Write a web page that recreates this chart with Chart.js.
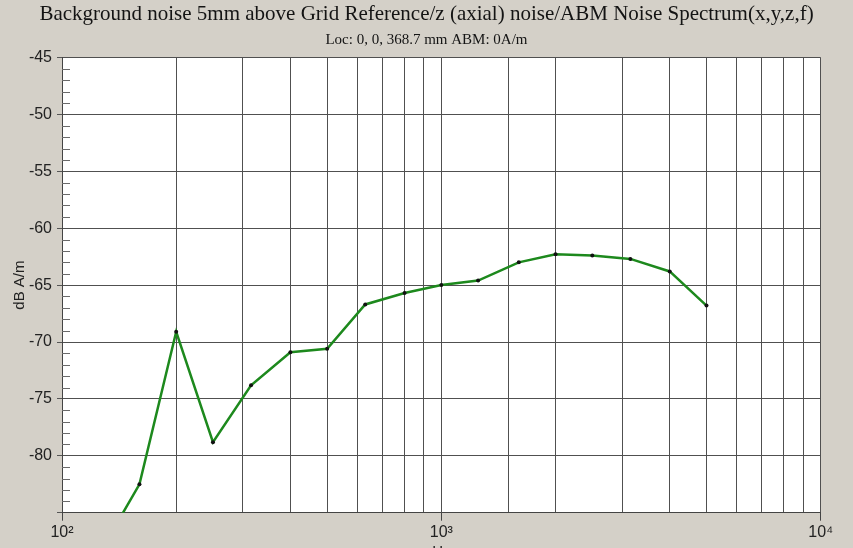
<!DOCTYPE html>
<html>
<head>
<meta charset="utf-8">
<script src="https://cdn.jsdelivr.net/npm/chart.js@4/dist/chart.umd.min.js"></script>
<style>
  html, body { margin: 0; padding: 0; background: #d4d0c8; overflow: hidden; }
  #wrap { width: 853px; height: 566px; }
  canvas { display: block; }
</style>
</head>
<body>
<div id="wrap"><canvas id="c" width="853" height="566"></canvas></div>
<script>
// Third-octave band centre frequencies (Hz)
const frequencies = [125, 160, 200, 250, 315, 400, 500, 630, 800, 1000, 1250, 1600, 2000, 2500, 3150, 4000, 5000];
// Measured noise level (dB A/m)
const noiseLevels = [-88.7, -82.5, -69.1, -78.8, -73.8, -70.9, -70.6, -66.7, -65.7, -65.0, -64.6, -63.0, -62.3, -62.4, -62.7, -63.8, -66.8];
// Decade labels on the frequency axis
const decadeLabels = { 100: '10\u00B2', 1000: '10\u00B3', 10000: '10\u2074' };

const titleText = 'Background noise 5mm above Grid Reference/z (axial) noise/ABM Noise Spectrum(x,y,z,f)';
const subtitleText = 'Loc: 0, 0, 368.7 mm ABM: 0A/m';

const isDecade = v => Math.abs(Math.log10(v) - Math.round(Math.log10(v))) < 1e-9;

// White plot area and 1 dB minor ticks along the inside of the left axis
const plotDecor = {
  id: 'plotDecor',
  beforeDraw(chart) {
    const { ctx, chartArea: a } = chart;
    ctx.save();
    ctx.fillStyle = '#ffffff';
    ctx.fillRect(a.left, a.top, a.right - a.left, a.bottom - a.top);
    ctx.restore();
  },
  afterDatasetsDraw(chart) {
    const { ctx, chartArea: a, scales: { y } } = chart;
    ctx.save();
    ctx.strokeStyle = '#6a6a6a';
    ctx.lineWidth = 1;
    ctx.beginPath();
    for (let v = Math.ceil(y.min); v <= y.max; v++) {
      if (v % 5 === 0) continue;
      const py = Math.round(y.getPixelForValue(v)) + 0.5;
      ctx.moveTo(a.left, py);
      ctx.lineTo(a.left + 8, py);
    }
    ctx.stroke();
    ctx.restore();
  }
};

new Chart(document.getElementById('c'), {
  type: 'line',
  data: {
    datasets: [{
      data: frequencies.map((f, i) => ({ x: f, y: noiseLevels[i] })),
      borderColor: '#1d891d',
      borderWidth: 2.5,
      pointRadius: 2,
      pointBackgroundColor: '#111111',
      pointBorderWidth: 0,
      tension: 0,
      clip: 0,
      yAxisID: 'y'
    }]
  },
  options: {
    responsive: false,
    animation: false,
    devicePixelRatio: 1,
    layout: { padding: 0 },
    plugins: {
      legend: { display: false },
      tooltip: { enabled: false },
      title: {
        display: true,
        text: titleText,
        color: '#141414',
        font: { family: 'Liberation Serif', size: 21, weight: 'normal' },
        padding: { top: 2, bottom: 0 }
      },
      subtitle: {
        display: true,
        text: subtitleText,
        color: '#141414',
        font: { family: 'Liberation Serif', size: 15, weight: 'normal' },
        padding: { top: 3.8, bottom: 8.5 }
      }
    },
    scales: {
      x: {
        type: 'logarithmic',
        min: 100,
        max: 10000,
        afterFit(scale) { scale.height = 53.3; },
        border: { display: true, color: '#444444', width: 1 },
        grid: {
          color: '#505050',
          lineWidth: 1,
          tickLength: 8,
          tickColor: ctx => (ctx.tick && isDecade(ctx.tick.value)) ? '#444444' : 'rgba(0,0,0,0)'
        },
        ticks: {
          autoSkip: false,
          maxRotation: 0,
          padding: 2,
          color: '#222222',
          font: { family: 'Liberation Sans', size: 16 },
          callback: v => decadeLabels[v] || ''
        },
        title: {
          display: true,
          text: 'Hz',
          color: '#222222',
          font: { family: 'Liberation Sans', size: 15 },
          padding: { top: 0, bottom: 5 }
        }
      },
      y: {
        min: -85,
        max: -45,
        afterFit(scale) { scale.width = 62; },
        border: { display: true, color: '#444444', width: 1 },
        grid: {
          color: '#505050',
          lineWidth: 1,
          tickLength: 5,
          tickColor: '#555555'
        },
        ticks: {
          stepSize: 5,
          padding: 5,
          color: '#222222',
          font: { family: 'Liberation Sans', size: 16 },
          callback: v => (v === -85 ? '' : String(v))
        },
        title: {
          display: true,
          text: 'dB A/m',
          color: '#222222',
          font: { family: 'Liberation Sans', size: 15 },
          padding: { top: 11, bottom: 0 }
        }
      },
      // empty margin on the right of the plot
      yRight: {
        position: 'right',
        min: -85,
        max: -45,
        afterFit(scale) { scale.width = 32.3; },
        border: { display: false },
        grid: { display: false, drawTicks: false },
        ticks: { display: false }
      }
    }
  },
  plugins: [plotDecor]
});
</script>
</body>
</html>
